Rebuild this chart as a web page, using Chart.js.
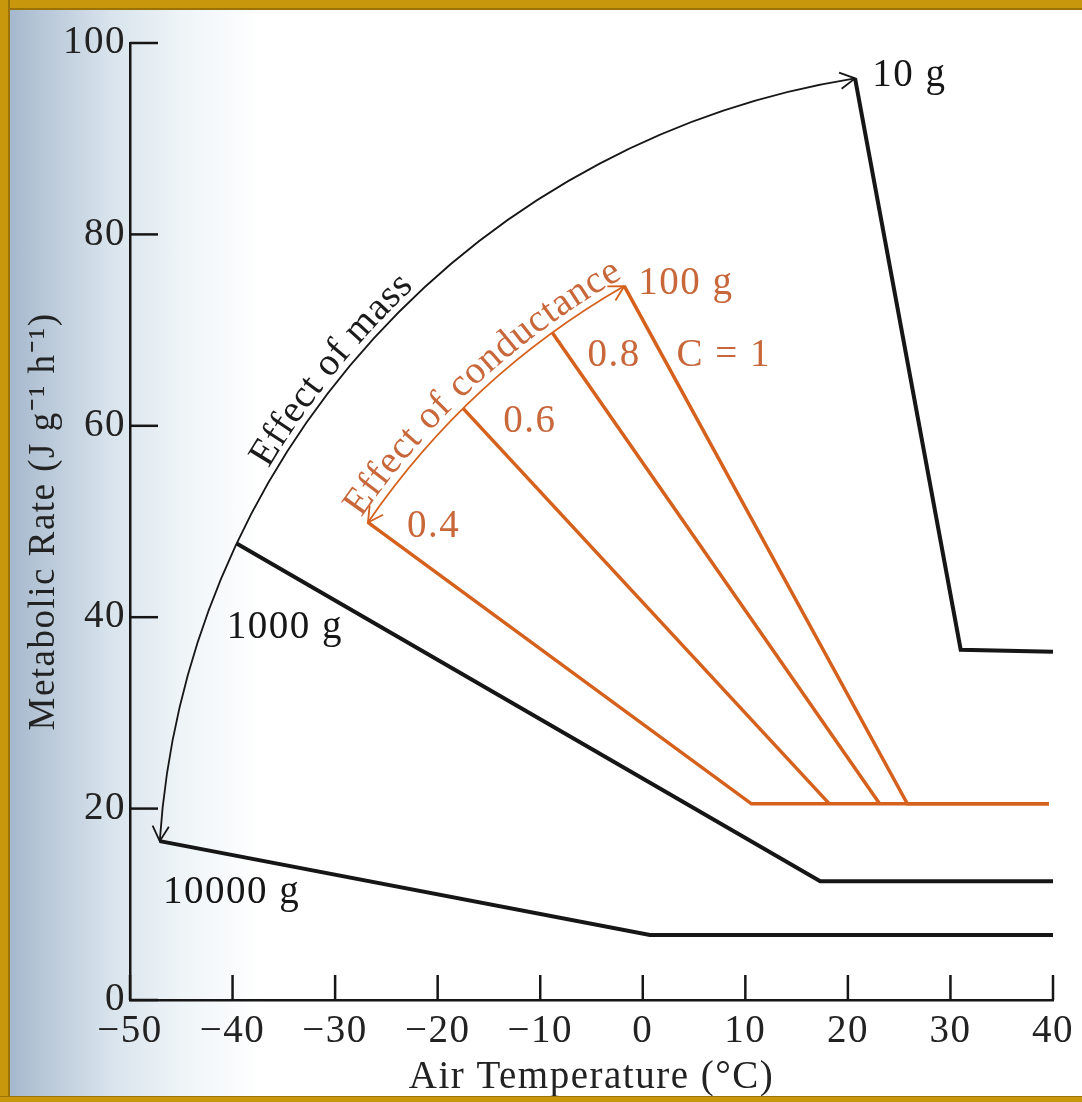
<!DOCTYPE html>
<html>
<head>
<meta charset="utf-8">
<title>Metabolic rate vs air temperature</title>
<script src="https://cdn.jsdelivr.net/npm/chart.js@4.4.1/dist/chart.umd.min.js"></script>
<style>
  html, body { margin: 0; padding: 0; background: #fff; }
  #frame {
    position: relative; width: 1082px; height: 1102px; overflow: hidden;
    background: linear-gradient(to right, #9fb3c8 0px, #b6c6d7 40px, #d8e3ec 110px, #eef4f7 180px, #ffffff 260px);
  }
  #chart { position: absolute; left: 0; top: 0; }
  .edge { position: absolute; background: #c9970b; }
</style>
</head>
<body>
<div id="frame">
  <canvas id="chart" width="1082" height="1102"></canvas>
  <div class="edge" style="left:0;top:0;width:1082px;height:8px;border-bottom:2px solid #9a7205"></div>
  <div class="edge" style="left:0;top:0;width:8px;height:1102px;border-right:2px solid #9a7205"></div>
  <div class="edge" style="left:0;top:1096px;width:1082px;height:6px;border-top:1px solid #9a7205"></div>
</div>
<script>
// tick values
const xTicks = [-50, -40, -30, -20, -10, 0, 10, 20, 30, 40];
const yTicks = [0, 20, 40, 60, 80, 100];

// black curves: body mass
const g10X = [20.7, 31.0, 40];
const g10Y = [96.3, 36.6, 36.4];
const g1000X = [-39.6, 17.3, 40];
const g1000Y = [47.7, 12.4, 12.4];
const g10000X = [-47.1, 0.7, 40];
const g10000Y = [16.6, 6.8, 6.8];

// orange curves: 100 g animal, different conductance
const c10X = [-1.8, 25.8, 39.6];
const c10Y = [74.6, 20.5, 20.5];
const c08X = [-8.8, 23.1];
const c08Y = [69.7, 20.5];
const c06X = [-17.5, 18.2];
const c06Y = [61.8, 20.5];
const c04X = [-26.8, 10.6, 39.6];
const c04Y = [49.9, 20.5, 20.5];

const SERIF = '"Liberation Serif", "Times New Roman", serif';
const INK = '#161616';
const ORANGE = '#d5611d';
const ORANGE_TEXT = '#c8673a';
const FONT_SIZE = 39;

function series(xs, ys) {
    return xs.map((x, i) => ({ x: x, y: ys[i] }));
}

function line(xs, ys, color, width) {
    return {
        data: series(xs, ys),
        borderColor: color,
        borderWidth: width,
        showLine: true,
        pointRadius: 0,
        fill: false,
        tension: 0,
        borderJoinStyle: 'miter',
        borderCapStyle: 'butt'
    };
}

function fmt(v) {
    return v < 0 ? '\u2212' + Math.abs(v) : String(v);
}

// text labels, anchored in data units
const notes = [
    { text: '10 g', x: 26.0, y: 96.6, color: INK },
    { text: '1000 g', x: -34.9, y: 38.9, color: INK },
    { text: '10000 g', x: -40.1, y: 11.2, color: INK },
    { text: '100 g', x: 4.2, y: 74.8, color: ORANGE_TEXT },
    { text: 'C = 1', x: 7.9, y: 67.3, color: ORANGE_TEXT },
    { text: '0.8', x: -2.8, y: 67.3, color: ORANGE_TEXT },
    { text: '0.6', x: -11.0, y: 60.4, color: ORANGE_TEXT },
    { text: '0.4', x: -20.4, y: 49.5, color: ORANGE_TEXT }
];

// arcs through the starting points of the curves
const arcs = [
    { pts: [[g10000X[0], g10000Y[0]], [g1000X[0], g1000Y[0]], [g10X[0], g10Y[0]]],
      color: INK, width: 1.8, text: 'Effect of mass', textColor: '#1b1b1b', startFrac: 0.35, lift: 7, gap: 0.6 },
    { pts: [[c04X[0], c04Y[0]], [c06X[0], c06Y[0]], [c10X[0], c10Y[0]]],
      color: ORANGE, width: 1.8, text: 'Effect of conductance', textColor: ORANGE_TEXT, startFrac: 0.0, lift: 8, gap: 0.8 }
];

function circleThrough(a, b, c) {
    const d = 2 * (a.x * (b.y - c.y) + b.x * (c.y - a.y) + c.x * (a.y - b.y));
    const a2 = a.x * a.x + a.y * a.y, b2 = b.x * b.x + b.y * b.y, c2 = c.x * c.x + c.y * c.y;
    const ux = (a2 * (b.y - c.y) + b2 * (c.y - a.y) + c2 * (a.y - b.y)) / d;
    const uy = (a2 * (c.x - b.x) + b2 * (a.x - c.x) + c2 * (b.x - a.x)) / d;
    return { x: ux, y: uy, r: Math.hypot(a.x - ux, a.y - uy) };
}

function arrowHead(ctx, tip, dx, dy, len) {
    const ang = Math.atan2(dy, dx);
    const spread = 0.5;
    ctx.beginPath();
    ctx.moveTo(tip.x - len * Math.cos(ang - spread), tip.y - len * Math.sin(ang - spread));
    ctx.lineTo(tip.x, tip.y);
    ctx.lineTo(tip.x - len * Math.cos(ang + spread), tip.y - len * Math.sin(ang + spread));
    ctx.stroke();
}

const decorations = {
    id: 'decorations',
    beforeDraw(chart) {
        // the scanned type is set a little loose
        chart.ctx.letterSpacing = '1.5px';
    },
    afterDatasetsDraw(chart) {
        const ctx = chart.ctx;
        const xs = chart.scales.x, ys = chart.scales.y;
        const px = v => xs.getPixelForValue(v);
        const py = v => ys.getPixelForValue(v);
        ctx.save();

        // inward tick marks
        ctx.strokeStyle = INK;
        ctx.lineWidth = 2.5;
        const bottom = chart.chartArea.bottom, left = chart.chartArea.left;
        xTicks.forEach(v => {
            ctx.beginPath();
            ctx.moveTo(px(v), bottom);
            ctx.lineTo(px(v), bottom - 25);
            ctx.stroke();
        });
        yTicks.forEach(v => {
            ctx.beginPath();
            ctx.moveTo(left, py(v));
            ctx.lineTo(left + 28, py(v));
            ctx.stroke();
        });

        // arcs with arrows and curved text
        arcs.forEach(a => {
            const p = a.pts.map(q => ({ x: px(q[0]), y: py(q[1]) }));
            const c = circleThrough(p[0], p[1], p[2]);
            const a0 = Math.atan2(p[0].y - c.y, p[0].x - c.x);
            let a1 = Math.atan2(p[2].y - c.y, p[2].x - c.x);
            if (a1 < a0) a1 += Math.PI * 2;
            ctx.strokeStyle = a.color;
            ctx.lineWidth = a.width;
            ctx.beginPath();
            ctx.arc(c.x, c.y, c.r, a0, a1, false);
            ctx.stroke();
            arrowHead(ctx, p[2], -Math.sin(a1), Math.cos(a1), 17);
            arrowHead(ctx, p[0], Math.sin(a0), -Math.cos(a0), 17);

            ctx.letterSpacing = '0px';
            ctx.font = FONT_SIZE + 'px ' + SERIF;
            ctx.fillStyle = a.textColor;
            ctx.textAlign = 'center';
            ctx.textBaseline = 'alphabetic';
            const R = c.r + a.lift;
            let theta = a0 + a.startFrac * (a1 - a0);
            for (const ch of a.text) {
                const w = ctx.measureText(ch).width;
                const mid = theta + (w / 2) / R;
                ctx.save();
                ctx.translate(c.x + R * Math.cos(mid), c.y + R * Math.sin(mid));
                ctx.rotate(mid + Math.PI / 2);
                ctx.fillText(ch, 0, 0);
                ctx.restore();
                theta += (w + a.gap) / R;
            }
        });

        // plain labels
        ctx.letterSpacing = '1.5px';
        ctx.font = FONT_SIZE + 'px ' + SERIF;
        ctx.textAlign = 'center';
        ctx.textBaseline = 'middle';
        notes.forEach(n => {
            ctx.fillStyle = n.color;
            ctx.fillText(n.text, px(n.x), py(n.y));
        });
        ctx.restore();
    }
};

const ctx = document.getElementById('chart').getContext('2d');
new Chart(ctx, {
    type: 'scatter',
    data: {
        datasets: [
            line(g10X, g10Y, INK, 4),
            line(g1000X, g1000Y, INK, 4),
            line(g10000X, g10000Y, INK, 4),
            line(c10X, c10Y, ORANGE, 3.5),
            line(c08X, c08Y, ORANGE, 3.5),
            line(c06X, c06Y, ORANGE, 3.5),
            line(c04X, c04Y, ORANGE, 3.5)
        ]
    },
    options: {
        responsive: false,
        animation: false,
        layout: { padding: { top: 43, right: 29, left: 0, bottom: 0 } },
        plugins: { legend: { display: false }, tooltip: { enabled: false } },
        scales: {
            x: {
                type: 'linear', min: -50, max: 40,
                afterBuildTicks: s => { s.ticks = xTicks.map(v => ({ value: v })); },
                afterFit: s => { s.height = 102; },
                grid: { display: false, drawTicks: false },
                border: { display: true, color: INK, width: 2.5 },
                ticks: { font: { family: SERIF, size: FONT_SIZE }, color: '#222', padding: 8,
                         maxRotation: 0, autoSkip: false, callback: v => fmt(v) },
                title: { display: true, text: 'Air Temperature (°C)', color: '#222',
                         font: { family: SERIF, size: FONT_SIZE }, padding: { top: 0, bottom: 1 } }
            },
            y: {
                type: 'linear', min: 0, max: 100,
                afterBuildTicks: s => { s.ticks = yTicks.map(v => ({ value: v })); },
                afterFit: s => { s.width = 130; },
                grid: { display: false, drawTicks: false },
                border: { display: true, color: INK, width: 2.5 },
                ticks: { font: { family: SERIF, size: FONT_SIZE }, color: '#222', padding: 4,
                         autoSkip: false, callback: v => fmt(v) },
                title: { display: true, text: 'Metabolic Rate (J g\u207B\u00B9 h\u207B\u00B9)', color: '#222',
                         font: { family: SERIF, size: 37 }, padding: { top: 22, bottom: 0 } }
            }
        }
    },
    plugins: [decorations]
});
</script>
</body>
</html>
